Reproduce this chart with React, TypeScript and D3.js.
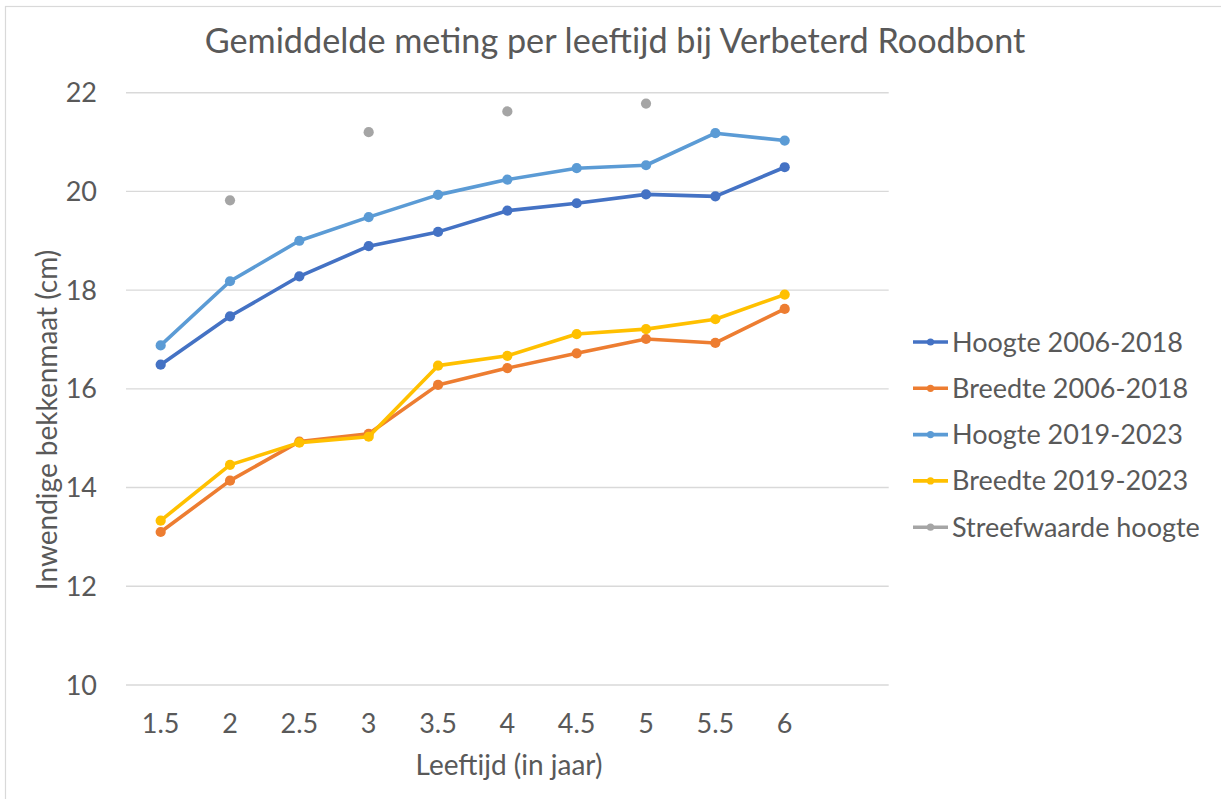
import React from "react";
import * as d3 from "d3";

const ages = [1.5, 2, 2.5, 3, 3.5, 4, 4.5, 5, 5.5, 6];
const hoogte0618 = [16.49, 17.47, 18.28, 18.89, 19.18, 19.61, 19.76, 19.94, 19.9, 20.49];
const breedte0618 = [13.1, 14.14, 14.93, 15.09, 16.08, 16.42, 16.72, 17.01, 16.93, 17.62];
const hoogte1923 = [16.88, 18.18, 19.0, 19.48, 19.93, 20.24, 20.47, 20.53, 21.18, 21.03];
const breedte1923 = [13.33, 14.46, 14.91, 15.03, 16.47, 16.67, 17.11, 17.21, 17.41, 17.91];
const streefwaarde: (number | null)[] = [null, 19.82, null, 21.2, null, 21.62, null, 21.78, null, null];
const yTicks = [10, 12, 14, 16, 18, 20, 22];

const seriesNames = ["Hoogte 2006-2018", "Breedte 2006-2018", "Hoogte 2019-2023", "Breedte 2019-2023", "Streefwaarde hoogte"];
const seriesColors = ["#4472C4", "#ED7D31", "#5B9BD5", "#FFC000", "#A5A5A5"];
const seriesValues: (number | null)[][] = [hoogte0618, breedte0618, hoogte1923, breedte1923, streefwaarde];
const seriesHasLine = [true, true, true, true, false];

const title = "Gemiddelde meting per leeftijd bij Verbeterd Roodbont";
const xTitle = "Leeftijd (in jaar)";
const yTitle = "Inwendige bekkenmaat (cm)";

const FONT = "Lato, 'Open Sans', sans-serif";
const TXT = "#595959";

export default function App() {
  const W = 1221, H = 799;
  const x = d3.scaleLinear().domain([1.25, 6.75]).range([126, 888.7]);
  const y = d3.scaleLinear().domain([10, 22]).range([685, 92.7]);
  const line = d3
    .line<number | null>()
    .defined((d) => d !== null)
    .x((_, i) => x(ages[i]))
    .y((d) => y(d as number));

  return (
    <svg width={W} height={H} style={{ position: "absolute", left: 0, top: 0, background: "#fff" }} fontFamily={FONT}>
      <rect x={0} y={0} width={W} height={H} fill="#fff" />
      <rect x={5.5} y={6.5} width={W + 10} height={H + 10} fill="none" stroke="#D9D9D9" strokeWidth={1.2} />
      <text x={615} y={53} textAnchor="middle" fontSize={34.2} fill={TXT}>{title}</text>
      {yTicks.map((t) => (
        <g key={t}>
          <line x1={x.range()[0]} x2={x.range()[1]} y1={y(t)} y2={y(t)} stroke="#D9D9D9" strokeWidth={1.4} />
          <text x={97} y={y(t) + 9.5} textAnchor="end" fontSize={27} fill={TXT}>{t}</text>
        </g>
      ))}
      {ages.map((a) => (
        <text key={a} x={x(a)} y={733} textAnchor="middle" fontSize={27} fill={TXT}>{String(a)}</text>
      ))}
      <text x={509} y={775} textAnchor="middle" fontSize={28} fill={TXT}>{xTitle}</text>
      <text transform={`translate(57,420) rotate(-90)`} textAnchor="middle" fontSize={28} fill={TXT}>{yTitle}</text>
      {seriesValues.map((vals, si) => (
        <g key={si}>
          {seriesHasLine[si] && (
            <path d={line(vals) || ""} fill="none" stroke={seriesColors[si]} strokeWidth={3.6} strokeLinejoin="round" strokeLinecap="round" />
          )}
          {vals.map((v, i) =>
            v === null ? null : <circle key={i} cx={x(ages[i])} cy={y(v)} r={5.1} fill={seriesColors[si]} />
          )}
        </g>
      ))}
      {seriesNames.map((n, i) => {
        const cy = 342 + i * 46.3;
        return (
          <g key={n}>
            <line x1={913} x2={948} y1={cy} y2={cy} stroke={seriesColors[i]} strokeWidth={3.6} />
            <circle cx={930.5} cy={cy} r={3.6} fill={seriesColors[i]} />
            <text x={952} y={cy + 9.5} fontSize={27} fill={TXT}>{n}</text>
          </g>
        );
      })}
    </svg>
  );
}
